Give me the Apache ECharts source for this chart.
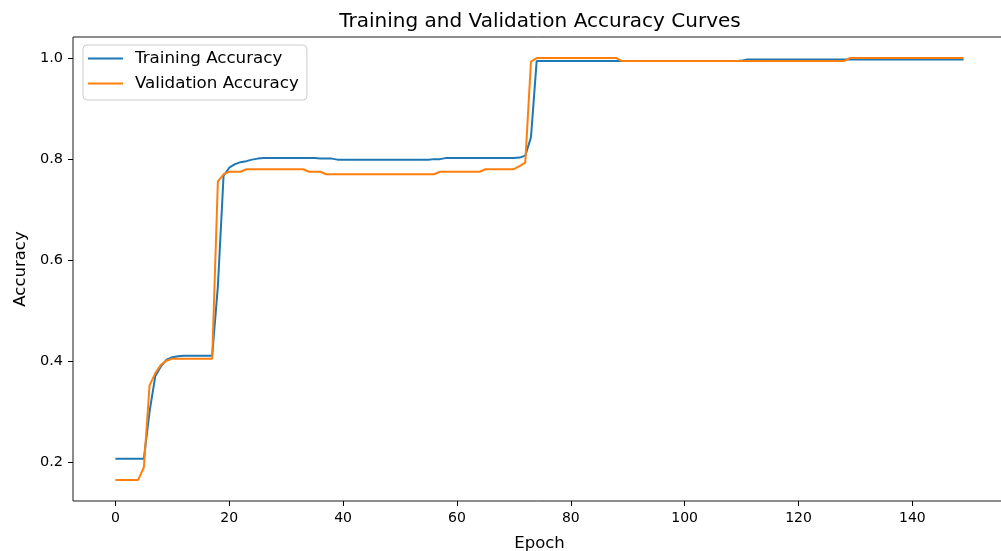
<!DOCTYPE html>
<html>
<head>
<meta charset="utf-8">
<title>Training and Validation Accuracy Curves</title>
<script src="https://cdn.jsdelivr.net/npm/echarts@6/dist/echarts.min.js"></script>
<style>
  html, body { margin: 0; padding: 0; background: #ffffff; }
  #chart { width: 1001px; height: 551px; }
</style>
</head>
<body>
<div id="chart"></div>
<script>
// Per-epoch accuracy, epochs 0..149
const trainingAccuracy = [
  0.207, 0.207, 0.207, 0.207, 0.207, 0.207, 0.300, 0.370, 0.390, 0.403,
  0.408, 0.410, 0.411, 0.411, 0.411, 0.411, 0.411, 0.411, 0.548, 0.767,
  0.783, 0.790, 0.794, 0.796, 0.799, 0.801, 0.802, 0.802, 0.802, 0.802,
  0.802, 0.802, 0.802, 0.802, 0.802, 0.802, 0.801, 0.801, 0.801, 0.799,
  0.799, 0.799, 0.799, 0.799, 0.799, 0.799, 0.799, 0.799, 0.799, 0.799,
  0.799, 0.799, 0.799, 0.799, 0.799, 0.799, 0.800, 0.800, 0.802, 0.802,
  0.802, 0.802, 0.802, 0.802, 0.802, 0.802, 0.802, 0.802, 0.802, 0.802,
  0.802, 0.803, 0.807, 0.843, 0.994, 0.994, 0.994, 0.994, 0.994, 0.994,
  0.994, 0.994, 0.994, 0.994, 0.994, 0.994, 0.994, 0.994, 0.994, 0.994,
  0.994, 0.994, 0.994, 0.994, 0.994, 0.994, 0.994, 0.994, 0.994, 0.994,
  0.994, 0.994, 0.994, 0.994, 0.994, 0.994, 0.994, 0.994, 0.994, 0.994,
  0.995, 0.997, 0.997, 0.997, 0.997, 0.997, 0.997, 0.997, 0.997, 0.997,
  0.997, 0.997, 0.997, 0.997, 0.997, 0.997, 0.997, 0.997, 0.997, 0.997,
  0.997, 0.997, 0.997, 0.997, 0.997, 0.997, 0.997, 0.997, 0.997, 0.997,
  0.997, 0.997, 0.997, 0.997, 0.997, 0.997, 0.997, 0.997, 0.997, 0.997
];

const validationAccuracy = [
  0.165, 0.165, 0.165, 0.165, 0.165, 0.190, 0.352, 0.376, 0.393, 0.401,
  0.405, 0.405, 0.405, 0.405, 0.405, 0.405, 0.405, 0.405, 0.756, 0.770,
  0.775, 0.775, 0.775, 0.780, 0.780, 0.780, 0.780, 0.780, 0.780, 0.780,
  0.780, 0.780, 0.780, 0.780, 0.775, 0.775, 0.775, 0.770, 0.770, 0.770,
  0.770, 0.770, 0.770, 0.770, 0.770, 0.770, 0.770, 0.770, 0.770, 0.770,
  0.770, 0.770, 0.770, 0.770, 0.770, 0.770, 0.770, 0.775, 0.775, 0.775,
  0.775, 0.775, 0.775, 0.775, 0.775, 0.780, 0.780, 0.780, 0.780, 0.780,
  0.780, 0.786, 0.793, 0.993, 1.000, 1.000, 1.000, 1.000, 1.000, 1.000,
  1.000, 1.000, 1.000, 1.000, 1.000, 1.000, 1.000, 1.000, 1.000, 0.994,
  0.994, 0.994, 0.994, 0.994, 0.994, 0.994, 0.994, 0.994, 0.994, 0.994,
  0.994, 0.994, 0.994, 0.994, 0.994, 0.994, 0.994, 0.994, 0.994, 0.994,
  0.994, 0.994, 0.994, 0.994, 0.994, 0.994, 0.994, 0.994, 0.994, 0.994,
  0.994, 0.994, 0.994, 0.994, 0.994, 0.994, 0.994, 0.994, 0.994, 1.000,
  1.000, 1.000, 1.000, 1.000, 1.000, 1.000, 1.000, 1.000, 1.000, 1.000,
  1.000, 1.000, 1.000, 1.000, 1.000, 1.000, 1.000, 1.000, 1.000, 1.000
];

const xTicks = [0, 20, 40, 60, 80, 100, 120, 140];
const yTicks = [0.2, 0.4, 0.6, 0.8, 1.0];

const seriesNames = ['Training Accuracy', 'Validation Accuracy'];
const seriesColors = ['#1f77b4', '#ff7f0e'];

// Axis ranges padded by 5% of the data span on each side
const nEpochs = trainingAccuracy.length;
const xMin = -(nEpochs - 1) * 0.05;
const xMax = (nEpochs - 1) * 1.05;
const allVals = trainingAccuracy.concat(validationAccuracy);
const vMin = Math.min.apply(null, allVals);
const vMax = Math.max.apply(null, allVals);
const yMin = vMin - (vMax - vMin) * 0.05;
const yMax = vMax + (vMax - vMin) * 0.05;

const toPoints = arr => arr.map((v, i) => [i, v]);

const font = 'DejaVu Sans';
const ink = '#000000';

const chart = echarts.init(document.getElementById('chart'), null, { renderer: 'canvas' });

chart.setOption({
  backgroundColor: '#ffffff',
  animation: false,
  title: {
    text: 'Training and Validation Accuracy Curves',
    left: 535,
    textAlign: 'center',
    top: 7,
    textStyle: { fontFamily: font, fontSize: 20, fontWeight: 'normal', color: ink }
  },
  grid: {
    left: 73,
    top: 37,
    width: 933,
    height: 464,
    outerBoundsMode: 'none',
    containLabel: false,
    show: true,
    borderColor: '#1a1a1a',
    borderWidth: 1,
    backgroundColor: 'transparent'
  },
  legend: {
    orient: 'vertical',
    left: 83,
    top: 45,
    padding: [5, 8, 8, 5],
    itemGap: 8,
    itemWidth: 35,
    itemHeight: 2,
    icon: 'rect',
    borderColor: '#cccccc',
    borderWidth: 1,
    borderRadius: 4,
    backgroundColor: 'rgba(255,255,255,0.8)',
    textStyle: { fontFamily: font, fontSize: 16.7, color: ink, padding: [0, 0, 0, 7] },
    data: seriesNames
  },
  xAxis: {
    type: 'value',
    min: xMin,
    max: xMax,
    name: 'Epoch',
    nameLocation: 'middle',
    nameGap: 34,
    nameTextStyle: { fontFamily: font, fontSize: 16.5, color: ink },
    axisLine: { show: false, onZero: false },
    splitLine: { show: false },
    axisTick: {
      show: true,
      customValues: xTicks,
      length: 5,
      lineStyle: { color: ink, width: 1 }
    },
    axisLabel: {
      customValues: xTicks,
      margin: 10,
      fontFamily: font,
      fontSize: 14,
      color: ink,
      formatter: v => String(Math.round(v))
    }
  },
  yAxis: {
    type: 'value',
    min: yMin,
    max: yMax,
    name: 'Accuracy',
    nameLocation: 'middle',
    nameRotate: 90,
    nameGap: 44,
    nameTextStyle: { fontFamily: font, fontSize: 16.5, color: ink },
    axisLine: { show: false, onZero: false },
    splitLine: { show: false },
    axisTick: {
      show: true,
      customValues: yTicks,
      length: 5,
      lineStyle: { color: ink, width: 1 }
    },
    axisLabel: {
      customValues: yTicks,
      margin: 10,
      fontFamily: font,
      fontSize: 14.5,
      color: ink,
      formatter: v => v.toFixed(1)
    }
  },
  series: [
    {
      name: seriesNames[0],
      type: 'line',
      data: toPoints(trainingAccuracy),
      symbol: 'none',
      color: seriesColors[0],
      lineStyle: { width: 2, color: seriesColors[0] },
      z: 2
    },
    {
      name: seriesNames[1],
      type: 'line',
      data: toPoints(validationAccuracy),
      symbol: 'none',
      color: seriesColors[1],
      lineStyle: { width: 2, color: seriesColors[1] },
      z: 3
    }
  ]
});
</script>
</body>
</html>
